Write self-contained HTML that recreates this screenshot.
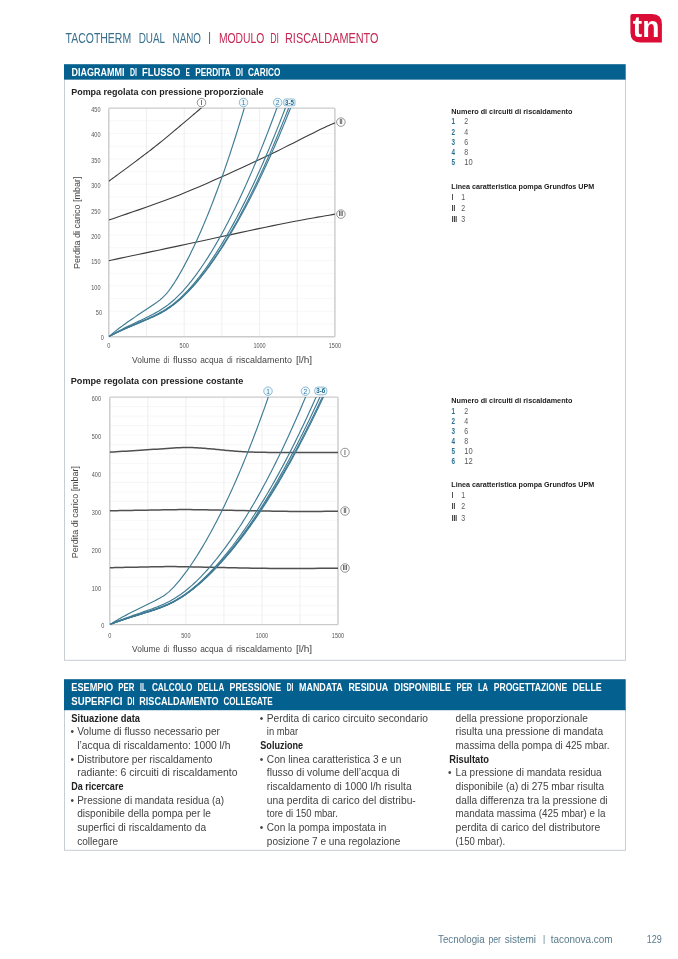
<!DOCTYPE html>
<html lang="it"><head><meta charset="utf-8"><title>TacoTherm Dual Nano – Modulo di riscaldamento</title>
<style>
html,body{margin:0;padding:0;background:#fff}
body{width:678px;height:959px;overflow:hidden}
svg{display:block;filter:blur(0.4px)}
svg text{font-family:"Liberation Sans",sans-serif}
</style></head><body>
<svg width="678" height="959" viewBox="0 0 678 959">
<text x="65.50" y="43.00" font-size="14.5" fill="#386f8c" textLength="65.70" lengthAdjust="spacingAndGlyphs">TACOTHERM</text>
<text x="138.70" y="43.00" font-size="14.5" fill="#386f8c" textLength="26.40" lengthAdjust="spacingAndGlyphs">DUAL</text>
<text x="172.60" y="43.00" font-size="14.5" fill="#386f8c" textLength="28.40" lengthAdjust="spacingAndGlyphs">NANO</text>
<text x="209.60" y="40.90" font-size="12" fill="#386f8c" text-anchor="middle">|</text>
<text x="218.90" y="43.00" font-size="14.5" fill="#c52852" textLength="45.40" lengthAdjust="spacingAndGlyphs">MODULO</text>
<text x="270.20" y="43.00" font-size="14.5" fill="#c52852" textLength="8.80" lengthAdjust="spacingAndGlyphs">DI</text>
<text x="285.00" y="43.00" font-size="14.5" fill="#c52852" textLength="93.50" lengthAdjust="spacingAndGlyphs">RISCALDAMENTO</text>
<path d="M632.2,14.0 H652 Q661.9,14.0 661.9,24.2 V42.6 H640.8 Q630.4,42.6 630.4,32.2 V15.8 Q630.4,14.0 632.2,14.0 Z" fill="#db0d36"/>
<text x="632.80" y="36.50" font-size="29" fill="#fff" font-weight="bold" textLength="26.60" lengthAdjust="spacingAndGlyphs">tn</text>
<rect x="64.50" y="79.00" width="561.00" height="581.30" fill="#fff" stroke="#c8cdd3" stroke-width="1"/>
<rect x="64.00" y="64.20" width="561.70" height="15.40" fill="#04608f"/>
<text x="71.60" y="76.00" font-size="10.8" fill="#fff" font-weight="bold" textLength="53.00" lengthAdjust="spacingAndGlyphs">DIAGRAMMI</text>
<text x="130.00" y="76.00" font-size="10.8" fill="#fff" font-weight="bold" textLength="7.00" lengthAdjust="spacingAndGlyphs">DI</text>
<text x="142.10" y="76.00" font-size="10.8" fill="#fff" font-weight="bold" textLength="38.10" lengthAdjust="spacingAndGlyphs">FLUSSO</text>
<text x="185.70" y="76.00" font-size="10.8" fill="#fff" font-weight="bold" textLength="4.00" lengthAdjust="spacingAndGlyphs">E</text>
<text x="195.20" y="76.00" font-size="10.8" fill="#fff" font-weight="bold" textLength="35.60" lengthAdjust="spacingAndGlyphs">PERDITA</text>
<text x="235.80" y="76.00" font-size="10.8" fill="#fff" font-weight="bold" textLength="7.10" lengthAdjust="spacingAndGlyphs">DI</text>
<text x="247.90" y="76.00" font-size="10.8" fill="#fff" font-weight="bold" textLength="32.60" lengthAdjust="spacingAndGlyphs">CARICO</text>
<rect x="108.80" y="108.10" width="226.10" height="228.60" fill="#fff"/>
<line x1="108.80" y1="324.00" x2="334.90" y2="324.00" stroke="#f4f4f4" stroke-width="0.7"/>
<line x1="108.80" y1="311.30" x2="334.90" y2="311.30" stroke="#f4f4f4" stroke-width="0.7"/>
<line x1="108.80" y1="298.60" x2="334.90" y2="298.60" stroke="#f4f4f4" stroke-width="0.7"/>
<line x1="108.80" y1="285.90" x2="334.90" y2="285.90" stroke="#f4f4f4" stroke-width="0.7"/>
<line x1="108.80" y1="273.20" x2="334.90" y2="273.20" stroke="#f4f4f4" stroke-width="0.7"/>
<line x1="108.80" y1="260.50" x2="334.90" y2="260.50" stroke="#f4f4f4" stroke-width="0.7"/>
<line x1="108.80" y1="247.80" x2="334.90" y2="247.80" stroke="#f4f4f4" stroke-width="0.7"/>
<line x1="108.80" y1="235.10" x2="334.90" y2="235.10" stroke="#f4f4f4" stroke-width="0.7"/>
<line x1="108.80" y1="222.40" x2="334.90" y2="222.40" stroke="#f4f4f4" stroke-width="0.7"/>
<line x1="108.80" y1="209.70" x2="334.90" y2="209.70" stroke="#f4f4f4" stroke-width="0.7"/>
<line x1="108.80" y1="197.00" x2="334.90" y2="197.00" stroke="#f4f4f4" stroke-width="0.7"/>
<line x1="108.80" y1="184.30" x2="334.90" y2="184.30" stroke="#f4f4f4" stroke-width="0.7"/>
<line x1="108.80" y1="171.60" x2="334.90" y2="171.60" stroke="#f4f4f4" stroke-width="0.7"/>
<line x1="108.80" y1="158.90" x2="334.90" y2="158.90" stroke="#f4f4f4" stroke-width="0.7"/>
<line x1="108.80" y1="146.20" x2="334.90" y2="146.20" stroke="#f4f4f4" stroke-width="0.7"/>
<line x1="108.80" y1="133.50" x2="334.90" y2="133.50" stroke="#f4f4f4" stroke-width="0.7"/>
<line x1="108.80" y1="120.80" x2="334.90" y2="120.80" stroke="#f4f4f4" stroke-width="0.7"/>
<line x1="146.48" y1="108.10" x2="146.48" y2="336.70" stroke="#ebebeb" stroke-width="0.8"/>
<line x1="184.17" y1="108.10" x2="184.17" y2="336.70" stroke="#ebebeb" stroke-width="0.8"/>
<line x1="221.85" y1="108.10" x2="221.85" y2="336.70" stroke="#ebebeb" stroke-width="0.8"/>
<line x1="259.53" y1="108.10" x2="259.53" y2="336.70" stroke="#ebebeb" stroke-width="0.8"/>
<line x1="297.22" y1="108.10" x2="297.22" y2="336.70" stroke="#ebebeb" stroke-width="0.8"/>
<clipPath id="c108"><rect x="108.8" y="108.1" width="226.09999999999997" height="228.6"/></clipPath>
<rect x="108.80" y="108.10" width="226.10" height="228.60" fill="none" stroke="#cbcbcb" stroke-width="1.4" rx="0.8"/>
<g clip-path="url(#c108)">
<path d="M108.70,181.30 L109.72,180.55 L110.97,179.63 L112.43,178.56 L114.07,177.36 L115.86,176.05 L117.77,174.65 L119.76,173.18 L121.81,171.67 L123.89,170.14 L125.97,168.60 L128.02,167.08 L130.00,165.60 L131.97,164.13 L133.99,162.62 L136.06,161.07 L138.16,159.50 L140.29,157.91 L142.44,156.29 L144.60,154.66 L146.76,153.02 L148.92,151.37 L151.07,149.71 L153.20,148.05 L155.30,146.40 L157.39,144.73 L159.50,143.03 L161.62,141.31 L163.74,139.57 L165.85,137.83 L167.96,136.08 L170.04,134.34 L172.11,132.61 L174.14,130.91 L176.14,129.23 L178.09,127.60 L180.00,126.00 L181.87,124.44 L183.72,122.88 L185.54,121.35 L187.33,119.83 L189.10,118.34 L190.83,116.87 L192.53,115.43 L194.19,114.01 L195.81,112.63 L197.39,111.28 L198.92,109.97 L200.40,108.70 L201.87,107.44 L203.34,106.17 L204.80,104.90 L206.24,103.66 L207.63,102.44 L208.98,101.27 L210.25,100.16 L211.43,99.12 L212.51,98.17 L213.48,97.33 L214.31,96.60 L215.00,96.00" fill="none" stroke="#3c3c3c" stroke-width="1.1" stroke-linejoin="round"/>
<path d="M108.70,220.10 L112.12,218.90 L116.36,217.45 L121.31,215.77 L126.86,213.89 L132.91,211.82 L139.35,209.61 L146.06,207.28 L152.95,204.85 L159.89,202.35 L166.79,199.81 L173.53,197.25 L180.00,194.70 L186.43,192.08 L193.06,189.31 L199.86,186.42 L206.76,183.43 L213.73,180.37 L220.71,177.27 L227.64,174.15 L234.49,171.05 L241.20,167.98 L247.72,164.99 L254.01,162.08 L260.00,159.30 L265.84,156.55 L271.68,153.75 L277.46,150.94 L283.15,148.13 L288.70,145.36 L294.07,142.66 L299.21,140.06 L304.08,137.59 L308.64,135.27 L312.84,133.15 L316.64,131.25 L320.00,129.60 L322.82,128.24 L325.09,127.15 L326.89,126.30 L328.30,125.65 L329.40,125.16 L330.26,124.79 L330.96,124.50 L331.59,124.25 L332.22,124.01 L332.93,123.73 L333.79,123.37 L334.90,122.90 L336.20,122.34 L337.58,121.75 L339.01,121.15 L340.48,120.54 L341.94,119.93 L343.38,119.33 L344.77,118.76 L346.08,118.22 L347.28,117.72 L348.35,117.28 L349.27,116.90 L350.00,116.60" fill="none" stroke="#3c3c3c" stroke-width="1.1" stroke-linejoin="round"/>
<path d="M108.70,260.70 L112.05,259.99 L116.12,259.13 L120.84,258.13 L126.12,257.02 L131.90,255.80 L138.10,254.49 L144.65,253.10 L151.47,251.66 L158.49,250.17 L165.63,248.66 L172.83,247.13 L180.00,245.60 L187.47,244.00 L195.52,242.27 L204.03,240.43 L212.87,238.51 L221.90,236.56 L231.01,234.59 L240.06,232.63 L248.92,230.73 L257.48,228.90 L265.59,227.19 L273.14,225.61 L280.00,224.20 L286.31,222.94 L292.32,221.77 L298.01,220.69 L303.40,219.69 L308.47,218.77 L313.24,217.92 L317.69,217.15 L321.82,216.43 L325.64,215.78 L329.15,215.17 L332.33,214.62 L335.20,214.10 L337.64,213.65 L339.57,213.30 L341.07,213.02 L342.19,212.82 L343.00,212.67 L343.55,212.57 L343.91,212.50 L344.14,212.46 L344.30,212.43 L344.46,212.40 L344.67,212.36 L345.00,212.30" fill="none" stroke="#3c3c3c" stroke-width="1.1" stroke-linejoin="round"/>
<path d="M108.80,336.70 L110.31,335.37 L111.81,334.08 L113.32,332.83 L114.83,331.60 L116.34,330.40 L117.84,329.23 L119.35,328.08 L120.86,326.95 L122.37,325.84 L123.87,324.74 L125.38,323.66 L126.89,322.59 L128.40,321.53 L129.90,320.48 L131.41,319.44 L132.92,318.41 L134.42,317.38 L135.93,316.36 L137.44,315.35 L138.95,314.33 L140.45,313.33 L141.96,312.32 L143.47,311.32 L144.98,310.32 L146.48,309.32 L147.99,308.32 L149.50,307.32 L151.01,306.31 L152.51,305.30 L154.02,304.27 L155.53,303.22 L157.03,302.14 L158.54,301.02 L160.05,299.83 L161.56,298.55 L163.06,297.18 L164.57,295.67 L166.08,294.04 L167.59,292.26 L169.09,290.35 L170.60,288.31 L172.11,286.16 L173.62,283.91 L175.12,281.56 L176.63,279.12 L178.14,276.61 L179.64,274.03 L181.15,271.38 L182.66,268.66 L184.17,265.88 L185.67,263.04 L187.18,260.14 L188.69,257.18 L190.20,254.16 L191.70,251.08 L193.21,247.94 L194.72,244.75 L196.23,241.49 L197.73,238.19 L199.24,234.82 L200.75,231.40 L202.25,227.92 L203.76,224.38 L205.27,220.79 L206.78,217.14 L208.28,213.43 L209.79,209.67 L211.30,205.85 L212.81,201.97 L214.31,198.04 L215.82,194.05 L217.33,190.00 L218.84,185.90 L220.34,181.74 L221.85,177.53 L223.36,173.25 L224.86,168.92 L226.37,164.54 L227.88,160.09 L229.39,155.59 L230.89,151.04 L232.40,146.43 L233.91,141.76 L235.42,137.03 L236.92,132.25 L238.43,127.41 L239.94,122.52 L241.45,117.56 L242.95,112.55 L244.46,107.49 L245.97,102.37" fill="none" stroke="#3f7b94" stroke-width="1.15" stroke-linejoin="round"/>
<path d="M108.80,336.70 L110.31,335.78 L111.81,334.88 L113.32,334.00 L114.83,333.15 L116.34,332.32 L117.84,331.50 L119.35,330.70 L120.86,329.91 L122.37,329.14 L123.87,328.38 L125.38,327.62 L126.89,326.88 L128.40,326.14 L129.90,325.41 L131.41,324.68 L132.92,323.96 L134.42,323.25 L135.93,322.53 L137.44,321.82 L138.95,321.11 L140.45,320.40 L141.96,319.68 L143.47,318.97 L144.98,318.25 L146.48,317.52 L147.99,316.78 L149.50,316.04 L151.01,315.27 L152.51,314.50 L154.02,313.70 L155.53,312.88 L157.03,312.04 L158.54,311.17 L160.05,310.26 L161.56,309.32 L163.06,308.34 L164.57,307.32 L166.08,306.25 L167.59,305.14 L169.09,303.98 L170.60,302.77 L172.11,301.51 L173.62,300.20 L175.12,298.84 L176.63,297.43 L178.14,295.96 L179.64,294.45 L181.15,292.88 L182.66,291.27 L184.17,289.60 L185.67,287.89 L187.18,286.13 L188.69,284.32 L190.20,282.46 L191.70,280.56 L193.21,278.62 L194.72,276.63 L196.23,274.60 L197.73,272.52 L199.24,270.40 L200.75,268.24 L202.25,266.04 L203.76,263.80 L205.27,261.51 L206.78,259.18 L208.28,256.82 L209.79,254.41 L211.30,251.96 L212.81,249.47 L214.31,246.95 L215.82,244.38 L217.33,241.77 L218.84,239.13 L220.34,236.44 L221.85,233.72 L223.36,230.95 L224.86,228.15 L226.37,225.31 L227.88,222.43 L229.39,219.52 L230.89,216.56 L232.40,213.56 L233.91,210.53 L235.42,207.46 L236.92,204.35 L238.43,201.20 L239.94,198.01 L241.45,194.79 L242.95,191.52 L244.46,188.22 L245.97,184.88 L247.47,181.50 L248.98,178.09 L250.49,174.63 L252.00,171.14 L253.50,167.61 L255.01,164.04 L256.52,160.44 L258.03,156.79 L259.53,153.11 L261.04,149.39 L262.55,145.63 L264.06,141.83 L265.56,138.00 L267.07,134.13 L268.58,130.22 L270.08,126.27 L271.59,122.28 L273.10,118.26 L274.61,114.19 L276.11,110.09 L277.62,105.95 L279.13,101.78" fill="none" stroke="#3f7b94" stroke-width="1.15" stroke-linejoin="round"/>
<path d="M108.80,336.70 L110.31,335.85 L111.81,335.03 L113.32,334.23 L114.83,333.45 L116.34,332.69 L117.84,331.94 L119.35,331.21 L120.86,330.49 L122.37,329.78 L123.87,329.08 L125.38,328.39 L126.89,327.71 L128.40,327.03 L129.90,326.36 L131.41,325.70 L132.92,325.04 L134.42,324.38 L135.93,323.73 L137.44,323.08 L138.95,322.43 L140.45,321.78 L141.96,321.13 L143.47,320.48 L144.98,319.82 L146.48,319.16 L147.99,318.49 L149.50,317.81 L151.01,317.12 L152.51,316.42 L154.02,315.70 L155.53,314.97 L157.03,314.21 L158.54,313.43 L160.05,312.62 L161.56,311.78 L163.06,310.91 L164.57,310.00 L166.08,309.06 L167.59,308.07 L169.09,307.04 L170.60,305.97 L172.11,304.85 L173.62,303.69 L175.12,302.48 L176.63,301.22 L178.14,299.91 L179.64,298.56 L181.15,297.17 L182.66,295.72 L184.17,294.23 L185.67,292.70 L187.18,291.12 L188.69,289.50 L190.20,287.84 L191.70,286.13 L193.21,284.39 L194.72,282.60 L196.23,280.77 L197.73,278.90 L199.24,276.99 L200.75,275.05 L202.25,273.06 L203.76,271.04 L205.27,268.97 L206.78,266.88 L208.28,264.74 L209.79,262.56 L211.30,260.35 L212.81,258.10 L214.31,255.82 L215.82,253.50 L217.33,251.14 L218.84,248.75 L220.34,246.32 L221.85,243.85 L223.36,241.35 L224.86,238.82 L226.37,236.24 L227.88,233.64 L229.39,230.99 L230.89,228.32 L232.40,225.60 L233.91,222.85 L235.42,220.07 L236.92,217.25 L238.43,214.39 L239.94,211.50 L241.45,208.58 L242.95,205.62 L244.46,202.63 L245.97,199.60 L247.47,196.53 L248.98,193.43 L250.49,190.30 L252.00,187.13 L253.50,183.92 L255.01,180.68 L256.52,177.41 L258.03,174.10 L259.53,170.75 L261.04,167.37 L262.55,163.96 L264.06,160.51 L265.56,157.03 L267.07,153.51 L268.58,149.95 L270.08,146.36 L271.59,142.74 L273.10,139.08 L274.61,135.39 L276.11,131.66 L277.62,127.90 L279.13,124.10 L280.64,120.27 L282.14,116.40 L283.65,112.50 L285.16,108.56 L286.67,104.58 L288.17,100.58" fill="none" stroke="#3f7b94" stroke-width="1.15" stroke-linejoin="round"/>
<path d="M108.80,336.70 L110.31,335.87 L111.81,335.07 L113.32,334.29 L114.83,333.53 L116.34,332.78 L117.84,332.05 L119.35,331.33 L120.86,330.63 L122.37,329.94 L123.87,329.25 L125.38,328.58 L126.89,327.91 L128.40,327.25 L129.90,326.60 L131.41,325.95 L132.92,325.31 L134.42,324.67 L135.93,324.03 L137.44,323.39 L138.95,322.76 L140.45,322.12 L141.96,321.49 L143.47,320.85 L144.98,320.21 L146.48,319.56 L147.99,318.91 L149.50,318.25 L151.01,317.57 L152.51,316.89 L154.02,316.19 L155.53,315.47 L157.03,314.73 L158.54,313.97 L160.05,313.18 L161.56,312.37 L163.06,311.52 L164.57,310.64 L166.08,309.72 L167.59,308.76 L169.09,307.76 L170.60,306.72 L172.11,305.64 L173.62,304.51 L175.12,303.34 L176.63,302.13 L178.14,300.87 L179.64,299.56 L181.15,298.21 L182.66,296.82 L184.17,295.38 L185.67,293.90 L187.18,292.38 L188.69,290.81 L190.20,289.21 L191.70,287.56 L193.21,285.88 L194.72,284.15 L196.23,282.39 L197.73,280.58 L199.24,278.74 L200.75,276.87 L202.25,274.95 L203.76,273.00 L205.27,271.01 L206.78,268.99 L208.28,266.93 L209.79,264.83 L211.30,262.70 L212.81,260.54 L214.31,258.34 L215.82,256.10 L217.33,253.83 L218.84,251.53 L220.34,249.19 L221.85,246.81 L223.36,244.41 L224.86,241.96 L226.37,239.49 L227.88,236.98 L229.39,234.44 L230.89,231.86 L232.40,229.25 L233.91,226.60 L235.42,223.93 L236.92,221.21 L238.43,218.47 L239.94,215.69 L241.45,212.88 L242.95,210.03 L244.46,207.15 L245.97,204.24 L247.47,201.30 L248.98,198.32 L250.49,195.30 L252.00,192.26 L253.50,189.18 L255.01,186.07 L256.52,182.92 L258.03,179.74 L259.53,176.53 L261.04,173.29 L262.55,170.01 L264.06,166.70 L265.56,163.35 L267.07,159.98 L268.58,156.57 L270.08,153.12 L271.59,149.64 L273.10,146.13 L274.61,142.59 L276.11,139.01 L277.62,135.40 L279.13,131.76 L280.64,128.08 L282.14,124.37 L283.65,120.63 L285.16,116.85 L286.67,113.05 L288.17,109.20 L289.68,105.33 L291.19,101.42" fill="none" stroke="#3f7b94" stroke-width="1.15" stroke-linejoin="round"/>
<path d="M108.80,336.70 L110.31,335.89 L111.81,335.10 L113.32,334.33 L114.83,333.58 L116.34,332.84 L117.84,332.12 L119.35,331.42 L120.86,330.73 L122.37,330.04 L123.87,329.37 L125.38,328.71 L126.89,328.05 L128.40,327.40 L129.90,326.76 L131.41,326.12 L132.92,325.49 L134.42,324.86 L135.93,324.23 L137.44,323.60 L138.95,322.97 L140.45,322.35 L141.96,321.72 L143.47,321.09 L144.98,320.45 L146.48,319.81 L147.99,319.17 L149.50,318.51 L151.01,317.84 L152.51,317.16 L154.02,316.46 L155.53,315.75 L157.03,315.01 L158.54,314.25 L160.05,313.46 L161.56,312.64 L163.06,311.79 L164.57,310.90 L166.08,309.98 L167.59,309.02 L169.09,308.02 L170.60,306.97 L172.11,305.89 L173.62,304.76 L175.12,303.59 L176.63,302.38 L178.14,301.12 L179.64,299.82 L181.15,298.48 L182.66,297.09 L184.17,295.67 L185.67,294.20 L187.18,292.69 L188.69,291.15 L190.20,289.56 L191.70,287.93 L193.21,286.27 L194.72,284.57 L196.23,282.83 L197.73,281.05 L199.24,279.24 L200.75,277.40 L202.25,275.51 L203.76,273.60 L205.27,271.64 L206.78,269.66 L208.28,267.63 L209.79,265.58 L211.30,263.49 L212.81,261.37 L214.31,259.21 L215.82,257.02 L217.33,254.80 L218.84,252.54 L220.34,250.25 L221.85,247.93 L223.36,245.57 L224.86,243.19 L226.37,240.77 L227.88,238.31 L229.39,235.83 L230.89,233.31 L232.40,230.76 L233.91,228.18 L235.42,225.57 L236.92,222.92 L238.43,220.25 L239.94,217.54 L241.45,214.79 L242.95,212.02 L244.46,209.21 L245.97,206.38 L247.47,203.51 L248.98,200.61 L250.49,197.67 L252.00,194.71 L253.50,191.71 L255.01,188.69 L256.52,185.63 L258.03,182.53 L259.53,179.41 L261.04,176.26 L262.55,173.07 L264.06,169.85 L265.56,166.60 L267.07,163.32 L268.58,160.01 L270.08,156.66 L271.59,153.29 L273.10,149.88 L274.61,146.44 L276.11,142.97 L277.62,139.47 L279.13,135.93 L280.64,132.37 L282.14,128.77 L283.65,125.14 L285.16,121.48 L286.67,117.79 L288.17,114.07 L289.68,110.31 L291.19,106.53 L292.69,102.71" fill="none" stroke="#3f7b94" stroke-width="1.15" stroke-linejoin="round"/>
</g>
<text x="103.90" y="340.20" font-size="7.4" fill="#555" text-anchor="end" textLength="3.10" lengthAdjust="spacingAndGlyphs">0</text>
<text x="102.00" y="315.20" font-size="7.4" fill="#555" text-anchor="end" textLength="6.20" lengthAdjust="spacingAndGlyphs">50</text>
<text x="100.50" y="289.80" font-size="7.4" fill="#555" text-anchor="end" textLength="9.20" lengthAdjust="spacingAndGlyphs">100</text>
<text x="100.50" y="264.40" font-size="7.4" fill="#555" text-anchor="end" textLength="9.20" lengthAdjust="spacingAndGlyphs">150</text>
<text x="100.50" y="239.00" font-size="7.4" fill="#555" text-anchor="end" textLength="9.20" lengthAdjust="spacingAndGlyphs">200</text>
<text x="100.50" y="213.60" font-size="7.4" fill="#555" text-anchor="end" textLength="9.20" lengthAdjust="spacingAndGlyphs">250</text>
<text x="100.50" y="188.20" font-size="7.4" fill="#555" text-anchor="end" textLength="9.20" lengthAdjust="spacingAndGlyphs">300</text>
<text x="100.50" y="162.80" font-size="7.4" fill="#555" text-anchor="end" textLength="9.20" lengthAdjust="spacingAndGlyphs">350</text>
<text x="100.50" y="137.40" font-size="7.4" fill="#555" text-anchor="end" textLength="9.20" lengthAdjust="spacingAndGlyphs">400</text>
<text x="100.50" y="112.00" font-size="7.4" fill="#555" text-anchor="end" textLength="9.20" lengthAdjust="spacingAndGlyphs">450</text>
<text x="108.80" y="348.25" font-size="7.4" fill="#555" text-anchor="middle" textLength="3.10" lengthAdjust="spacingAndGlyphs">0</text>
<text x="184.17" y="348.25" font-size="7.4" fill="#555" text-anchor="middle" textLength="9.20" lengthAdjust="spacingAndGlyphs">500</text>
<text x="259.53" y="348.25" font-size="7.4" fill="#555" text-anchor="middle" textLength="12.30" lengthAdjust="spacingAndGlyphs">1000</text>
<text x="334.90" y="348.25" font-size="7.4" fill="#555" text-anchor="middle" textLength="12.30" lengthAdjust="spacingAndGlyphs">1500</text>
<rect x="109.80" y="397.10" width="228.20" height="227.50" fill="#fff"/>
<line x1="109.80" y1="615.12" x2="338.00" y2="615.12" stroke="#f4f4f4" stroke-width="0.7"/>
<line x1="109.80" y1="605.64" x2="338.00" y2="605.64" stroke="#f4f4f4" stroke-width="0.7"/>
<line x1="109.80" y1="596.16" x2="338.00" y2="596.16" stroke="#f4f4f4" stroke-width="0.7"/>
<line x1="109.80" y1="586.68" x2="338.00" y2="586.68" stroke="#f4f4f4" stroke-width="0.7"/>
<line x1="109.80" y1="577.20" x2="338.00" y2="577.20" stroke="#f4f4f4" stroke-width="0.7"/>
<line x1="109.80" y1="567.73" x2="338.00" y2="567.73" stroke="#f4f4f4" stroke-width="0.7"/>
<line x1="109.80" y1="558.25" x2="338.00" y2="558.25" stroke="#f4f4f4" stroke-width="0.7"/>
<line x1="109.80" y1="548.77" x2="338.00" y2="548.77" stroke="#f4f4f4" stroke-width="0.7"/>
<line x1="109.80" y1="539.29" x2="338.00" y2="539.29" stroke="#f4f4f4" stroke-width="0.7"/>
<line x1="109.80" y1="529.81" x2="338.00" y2="529.81" stroke="#f4f4f4" stroke-width="0.7"/>
<line x1="109.80" y1="520.33" x2="338.00" y2="520.33" stroke="#f4f4f4" stroke-width="0.7"/>
<line x1="109.80" y1="510.85" x2="338.00" y2="510.85" stroke="#f4f4f4" stroke-width="0.7"/>
<line x1="109.80" y1="501.37" x2="338.00" y2="501.37" stroke="#f4f4f4" stroke-width="0.7"/>
<line x1="109.80" y1="491.89" x2="338.00" y2="491.89" stroke="#f4f4f4" stroke-width="0.7"/>
<line x1="109.80" y1="482.41" x2="338.00" y2="482.41" stroke="#f4f4f4" stroke-width="0.7"/>
<line x1="109.80" y1="472.93" x2="338.00" y2="472.93" stroke="#f4f4f4" stroke-width="0.7"/>
<line x1="109.80" y1="463.45" x2="338.00" y2="463.45" stroke="#f4f4f4" stroke-width="0.7"/>
<line x1="109.80" y1="453.98" x2="338.00" y2="453.98" stroke="#f4f4f4" stroke-width="0.7"/>
<line x1="109.80" y1="444.50" x2="338.00" y2="444.50" stroke="#f4f4f4" stroke-width="0.7"/>
<line x1="109.80" y1="435.02" x2="338.00" y2="435.02" stroke="#f4f4f4" stroke-width="0.7"/>
<line x1="109.80" y1="425.54" x2="338.00" y2="425.54" stroke="#f4f4f4" stroke-width="0.7"/>
<line x1="109.80" y1="416.06" x2="338.00" y2="416.06" stroke="#f4f4f4" stroke-width="0.7"/>
<line x1="109.80" y1="406.58" x2="338.00" y2="406.58" stroke="#f4f4f4" stroke-width="0.7"/>
<line x1="147.83" y1="397.10" x2="147.83" y2="624.60" stroke="#ebebeb" stroke-width="0.8"/>
<line x1="185.87" y1="397.10" x2="185.87" y2="624.60" stroke="#ebebeb" stroke-width="0.8"/>
<line x1="223.90" y1="397.10" x2="223.90" y2="624.60" stroke="#ebebeb" stroke-width="0.8"/>
<line x1="261.93" y1="397.10" x2="261.93" y2="624.60" stroke="#ebebeb" stroke-width="0.8"/>
<line x1="299.97" y1="397.10" x2="299.97" y2="624.60" stroke="#ebebeb" stroke-width="0.8"/>
<clipPath id="c397"><rect x="109.8" y="397.1" width="228.2" height="227.5"/></clipPath>
<rect x="109.80" y="397.10" width="228.20" height="227.50" fill="none" stroke="#cbcbcb" stroke-width="1.4" rx="0.8"/>
<g clip-path="url(#c397)">
<path d="M109.50,452.20 L111.31,452.08 L113.57,451.94 L116.22,451.77 L119.19,451.57 L122.42,451.37 L125.85,451.14 L129.41,450.91 L133.04,450.68 L136.68,450.45 L140.26,450.22 L143.72,450.00 L147.00,449.80 L150.21,449.59 L153.51,449.37 L156.86,449.13 L160.24,448.89 L163.63,448.65 L167.01,448.42 L170.33,448.20 L173.59,448.00 L176.75,447.82 L179.79,447.67 L182.68,447.57 L185.40,447.50 L187.95,447.48 L190.35,447.50 L192.63,447.56 L194.79,447.64 L196.86,447.76 L198.85,447.89 L200.77,448.03 L202.65,448.19 L204.50,448.35 L206.33,448.51 L208.15,448.66 L210.00,448.80 L211.81,448.94 L213.54,449.09 L215.21,449.24 L216.82,449.40 L218.41,449.57 L219.97,449.74 L221.55,449.91 L223.13,450.07 L224.76,450.24 L226.43,450.40 L228.17,450.55 L230.00,450.70 L231.84,450.84 L233.65,450.99 L235.43,451.13 L237.22,451.27 L239.05,451.41 L240.94,451.55 L242.91,451.68 L245.00,451.80 L247.23,451.92 L249.62,452.02 L252.20,452.12 L255.00,452.20 L258.07,452.27 L261.42,452.32 L265.00,452.37 L268.77,452.40 L272.67,452.43 L276.67,452.44 L280.71,452.46 L284.76,452.47 L288.75,452.47 L292.66,452.48 L296.42,452.49 L300.00,452.50 L303.53,452.51 L307.14,452.52 L310.79,452.52 L314.43,452.52 L318.03,452.52 L321.54,452.52 L324.92,452.52 L328.12,452.51 L331.10,452.51 L333.82,452.50 L336.24,452.50 L338.30,452.50 L339.99,452.50 L341.32,452.50 L342.35,452.50 L343.12,452.50 L343.67,452.50 L344.04,452.50 L344.28,452.50 L344.43,452.50 L344.54,452.50 L344.64,452.50 L344.78,452.50 L345.00,452.50" fill="none" stroke="#505050" stroke-width="1.5" stroke-linejoin="round"/>
<path d="M109.50,510.80 L111.46,510.77 L113.91,510.72 L116.79,510.67 L120.02,510.61 L123.53,510.55 L127.25,510.48 L131.11,510.41 L135.04,510.34 L138.96,510.28 L142.81,510.21 L146.51,510.15 L150.00,510.10 L153.32,510.05 L156.58,509.99 L159.80,509.93 L163.00,509.87 L166.20,509.81 L169.41,509.75 L172.65,509.70 L175.94,509.66 L179.31,509.62 L182.76,509.60 L186.32,509.59 L190.00,509.60 L193.82,509.63 L197.75,509.67 L201.80,509.73 L205.93,509.80 L210.12,509.88 L214.38,509.96 L218.66,510.05 L222.96,510.15 L227.27,510.24 L231.55,510.33 L235.80,510.42 L240.00,510.50 L244.17,510.58 L248.35,510.66 L252.54,510.75 L256.73,510.84 L260.92,510.93 L265.11,511.01 L269.29,511.10 L273.46,511.17 L277.62,511.25 L281.77,511.31 L285.89,511.36 L290.00,511.40 L294.22,511.43 L298.63,511.44 L303.17,511.44 L307.77,511.44 L312.35,511.42 L316.86,511.41 L321.21,511.39 L325.34,511.36 L329.19,511.34 L332.68,511.32 L335.74,511.31 L338.30,511.30 L340.34,511.30 L341.90,511.29 L343.06,511.29 L343.86,511.29 L344.38,511.29 L344.67,511.29 L344.79,511.29 L344.80,511.30 L344.77,511.30 L344.75,511.30 L344.81,511.30 L345.00,511.30" fill="none" stroke="#505050" stroke-width="1.5" stroke-linejoin="round"/>
<path d="M109.50,567.70 L110.96,567.67 L112.77,567.63 L114.88,567.59 L117.24,567.54 L119.82,567.49 L122.56,567.43 L125.43,567.37 L128.37,567.31 L131.34,567.26 L134.30,567.20 L137.20,567.15 L140.00,567.10 L142.73,567.05 L145.46,566.99 L148.20,566.94 L150.96,566.87 L153.76,566.81 L156.59,566.76 L159.48,566.70 L162.43,566.66 L165.44,566.62 L168.54,566.60 L171.72,566.59 L175.00,566.60 L178.38,566.63 L181.86,566.67 L185.43,566.73 L189.07,566.80 L192.79,566.88 L196.56,566.96 L200.39,567.05 L204.26,567.15 L208.16,567.24 L212.09,567.33 L216.04,567.42 L220.00,567.50 L223.93,567.58 L227.83,567.66 L231.72,567.75 L235.62,567.84 L239.55,567.93 L243.54,568.01 L247.62,568.10 L251.79,568.17 L256.10,568.25 L260.55,568.31 L265.18,568.36 L270.00,568.40 L275.25,568.43 L281.04,568.44 L287.23,568.44 L293.69,568.44 L300.28,568.42 L306.86,568.41 L313.28,568.39 L319.42,568.36 L325.13,568.34 L330.27,568.32 L334.71,568.31 L338.30,568.30 L341.04,568.30 L343.06,568.29 L344.46,568.29 L345.34,568.29 L345.80,568.29 L345.92,568.29 L345.80,568.29 L345.54,568.30 L345.24,568.30 L344.98,568.30 L344.87,568.30 L345.00,568.30" fill="none" stroke="#505050" stroke-width="1.5" stroke-linejoin="round"/>
<path d="M109.80,624.60 L111.32,623.61 L112.84,622.65 L114.36,621.71 L115.89,620.80 L117.41,619.90 L118.93,619.03 L120.45,618.17 L121.97,617.32 L123.49,616.49 L125.01,615.67 L126.53,614.87 L128.06,614.07 L129.58,613.28 L131.10,612.49 L132.62,611.72 L134.14,610.95 L135.66,610.18 L137.18,609.42 L138.71,608.66 L140.23,607.91 L141.75,607.15 L143.27,606.40 L144.79,605.66 L146.31,604.91 L147.83,604.16 L149.35,603.42 L150.88,602.67 L152.40,601.92 L153.92,601.16 L155.44,600.40 L156.96,599.62 L158.48,598.82 L160.00,597.99 L161.53,597.12 L163.05,596.19 L164.57,595.18 L166.09,594.09 L167.61,592.89 L169.13,591.60 L170.65,590.20 L172.17,588.71 L173.70,587.13 L175.22,585.47 L176.74,583.74 L178.26,581.94 L179.78,580.09 L181.30,578.18 L182.82,576.22 L184.35,574.21 L185.87,572.16 L187.39,570.05 L188.91,567.91 L190.43,565.71 L191.95,563.48 L193.47,561.20 L194.99,558.88 L196.52,556.51 L198.04,554.10 L199.56,551.65 L201.08,549.16 L202.60,546.63 L204.12,544.05 L205.64,541.43 L207.17,538.77 L208.69,536.07 L210.21,533.33 L211.73,530.54 L213.25,527.71 L214.77,524.84 L216.29,521.93 L217.81,518.98 L219.34,515.98 L220.86,512.94 L222.38,509.86 L223.90,506.74 L225.42,503.58 L226.94,500.37 L228.46,497.12 L229.99,493.83 L231.51,490.50 L233.03,487.13 L234.55,483.71 L236.07,480.25 L237.59,476.76 L239.11,473.21 L240.63,469.63 L242.16,466.01 L243.68,462.34 L245.20,458.63 L246.72,454.88 L248.24,451.09 L249.76,447.25 L251.28,443.38 L252.81,439.46 L254.33,435.50 L255.85,431.50 L257.37,427.45 L258.89,423.37 L260.41,419.24 L261.93,415.07 L263.45,410.86 L264.98,406.61 L266.50,402.31 L268.02,397.97 L269.54,393.59 L271.06,389.17" fill="none" stroke="#3f7b94" stroke-width="1.15" stroke-linejoin="round"/>
<path d="M109.80,624.60 L111.32,623.91 L112.84,623.24 L114.36,622.59 L115.89,621.95 L117.41,621.33 L118.93,620.72 L120.45,620.12 L121.97,619.53 L123.49,618.96 L125.01,618.39 L126.53,617.82 L128.06,617.27 L129.58,616.72 L131.10,616.17 L132.62,615.63 L134.14,615.09 L135.66,614.56 L137.18,614.03 L138.71,613.50 L140.23,612.97 L141.75,612.44 L143.27,611.91 L144.79,611.38 L146.31,610.85 L147.83,610.31 L149.35,609.77 L150.88,609.23 L152.40,608.67 L153.92,608.11 L155.44,607.54 L156.96,606.95 L158.48,606.35 L160.00,605.73 L161.53,605.09 L163.05,604.42 L164.57,603.74 L166.09,603.02 L167.61,602.27 L169.13,601.50 L170.65,600.68 L172.17,599.84 L173.70,598.95 L175.22,598.03 L176.74,597.07 L178.26,596.07 L179.78,595.03 L181.30,593.95 L182.82,592.83 L184.35,591.68 L185.87,590.48 L187.39,589.25 L188.91,587.98 L190.43,586.68 L191.95,585.33 L193.47,583.96 L194.99,582.54 L196.52,581.09 L198.04,579.61 L199.56,578.09 L201.08,576.54 L202.60,574.96 L204.12,573.34 L205.64,571.69 L207.17,570.01 L208.69,568.30 L210.21,566.55 L211.73,564.77 L213.25,562.97 L214.77,561.13 L216.29,559.26 L217.81,557.36 L219.34,555.43 L220.86,553.46 L222.38,551.47 L223.90,549.45 L225.42,547.40 L226.94,545.31 L228.46,543.20 L229.99,541.05 L231.51,538.88 L233.03,536.68 L234.55,534.44 L236.07,532.18 L237.59,529.89 L239.11,527.56 L240.63,525.21 L242.16,522.83 L243.68,520.41 L245.20,517.97 L246.72,515.50 L248.24,513.00 L249.76,510.47 L251.28,507.90 L252.81,505.31 L254.33,502.69 L255.85,500.04 L257.37,497.36 L258.89,494.65 L260.41,491.91 L261.93,489.14 L263.45,486.34 L264.98,483.51 L266.50,480.65 L268.02,477.76 L269.54,474.84 L271.06,471.89 L272.58,468.92 L274.10,465.91 L275.63,462.87 L277.15,459.80 L278.67,456.70 L280.19,453.58 L281.71,450.42 L283.23,447.23 L284.75,444.01 L286.27,440.77 L287.80,437.49 L289.32,434.18 L290.84,430.85 L292.36,427.48 L293.88,424.08 L295.40,420.66 L296.92,417.20 L298.45,413.71 L299.97,410.20 L301.49,406.65 L303.01,403.07 L304.53,399.47 L306.05,395.83 L307.57,392.16" fill="none" stroke="#3f7b94" stroke-width="1.15" stroke-linejoin="round"/>
<path d="M109.80,624.60 L111.32,623.97 L112.84,623.36 L114.36,622.76 L115.89,622.18 L117.41,621.61 L118.93,621.05 L120.45,620.50 L121.97,619.96 L123.49,619.43 L125.01,618.91 L126.53,618.40 L128.06,617.89 L129.58,617.38 L131.10,616.88 L132.62,616.39 L134.14,615.90 L135.66,615.41 L137.18,614.92 L138.71,614.44 L140.23,613.95 L141.75,613.47 L143.27,612.98 L144.79,612.50 L146.31,612.01 L147.83,611.52 L149.35,611.03 L150.88,610.53 L152.40,610.02 L153.92,609.51 L155.44,608.99 L156.96,608.45 L158.48,607.90 L160.00,607.34 L161.53,606.76 L163.05,606.15 L164.57,605.53 L166.09,604.88 L167.61,604.21 L169.13,603.50 L170.65,602.77 L172.17,602.01 L173.70,601.21 L175.22,600.38 L176.74,599.51 L178.26,598.61 L179.78,597.68 L181.30,596.71 L182.82,595.71 L184.35,594.67 L185.87,593.60 L187.39,592.49 L188.91,591.35 L190.43,590.17 L191.95,588.97 L193.47,587.73 L194.99,586.46 L196.52,585.16 L198.04,583.82 L199.56,582.46 L201.08,581.07 L202.60,579.64 L204.12,578.19 L205.64,576.71 L207.17,575.20 L208.69,573.66 L210.21,572.09 L211.73,570.50 L213.25,568.87 L214.77,567.22 L216.29,565.54 L217.81,563.83 L219.34,562.10 L220.86,560.34 L222.38,558.55 L223.90,556.73 L225.42,554.89 L226.94,553.02 L228.46,551.12 L229.99,549.20 L231.51,547.25 L233.03,545.27 L234.55,543.27 L236.07,541.23 L237.59,539.18 L239.11,537.09 L240.63,534.98 L242.16,532.85 L243.68,530.68 L245.20,528.49 L246.72,526.28 L248.24,524.03 L249.76,521.76 L251.28,519.47 L252.81,517.14 L254.33,514.80 L255.85,512.42 L257.37,510.02 L258.89,507.59 L260.41,505.14 L261.93,502.65 L263.45,500.15 L264.98,497.61 L266.50,495.05 L268.02,492.47 L269.54,489.85 L271.06,487.21 L272.58,484.55 L274.10,481.85 L275.63,479.14 L277.15,476.39 L278.67,473.62 L280.19,470.82 L281.71,467.99 L283.23,465.14 L284.75,462.27 L286.27,459.36 L287.80,456.43 L289.32,453.47 L290.84,450.49 L292.36,447.48 L293.88,444.44 L295.40,441.38 L296.92,438.29 L298.45,435.17 L299.97,432.03 L301.49,428.86 L303.01,425.66 L304.53,422.44 L306.05,419.19 L307.57,415.91 L309.09,412.61 L310.62,409.28 L312.14,405.93 L313.66,402.54 L315.18,399.13 L316.70,395.70 L318.22,392.24" fill="none" stroke="#3f7b94" stroke-width="1.15" stroke-linejoin="round"/>
<path d="M109.80,624.60 L111.32,623.98 L112.84,623.38 L114.36,622.80 L115.89,622.23 L117.41,621.67 L118.93,621.13 L120.45,620.60 L121.97,620.07 L123.49,619.55 L125.01,619.04 L126.53,618.54 L128.06,618.04 L129.58,617.55 L131.10,617.06 L132.62,616.58 L134.14,616.10 L135.66,615.62 L137.18,615.14 L138.71,614.67 L140.23,614.20 L141.75,613.72 L143.27,613.25 L144.79,612.77 L146.31,612.30 L147.83,611.82 L149.35,611.33 L150.88,610.84 L152.40,610.35 L153.92,609.84 L155.44,609.32 L156.96,608.80 L158.48,608.26 L160.00,607.70 L161.53,607.12 L163.05,606.53 L164.57,605.91 L166.09,605.27 L167.61,604.60 L169.13,603.91 L170.65,603.18 L172.17,602.43 L173.70,601.64 L175.22,600.83 L176.74,599.98 L178.26,599.09 L179.78,598.17 L181.30,597.22 L182.82,596.24 L184.35,595.22 L185.87,594.17 L187.39,593.09 L188.91,591.98 L190.43,590.83 L191.95,589.66 L193.47,588.45 L194.99,587.21 L196.52,585.95 L198.04,584.65 L199.56,583.33 L201.08,581.97 L202.60,580.59 L204.12,579.18 L205.64,577.75 L207.17,576.28 L208.69,574.79 L210.21,573.27 L211.73,571.73 L213.25,570.15 L214.77,568.56 L216.29,566.93 L217.81,565.28 L219.34,563.60 L220.86,561.90 L222.38,560.17 L223.90,558.42 L225.42,556.64 L226.94,554.84 L228.46,553.01 L229.99,551.15 L231.51,549.27 L233.03,547.36 L234.55,545.43 L236.07,543.47 L237.59,541.49 L239.11,539.48 L240.63,537.45 L242.16,535.39 L243.68,533.31 L245.20,531.20 L246.72,529.07 L248.24,526.91 L249.76,524.73 L251.28,522.52 L252.81,520.29 L254.33,518.03 L255.85,515.75 L257.37,513.44 L258.89,511.11 L260.41,508.75 L261.93,506.37 L263.45,503.97 L264.98,501.53 L266.50,499.08 L268.02,496.60 L269.54,494.09 L271.06,491.56 L272.58,489.00 L274.10,486.42 L275.63,483.81 L277.15,481.18 L278.67,478.53 L280.19,475.85 L281.71,473.14 L283.23,470.41 L284.75,467.66 L286.27,464.88 L287.80,462.07 L289.32,459.24 L290.84,456.39 L292.36,453.51 L293.88,450.60 L295.40,447.67 L296.92,444.72 L298.45,441.74 L299.97,438.73 L301.49,435.71 L303.01,432.65 L304.53,429.57 L306.05,426.47 L307.57,423.34 L309.09,420.19 L310.62,417.01 L312.14,413.80 L313.66,410.57 L315.18,407.32 L316.70,404.04 L318.22,400.74 L319.74,397.41 L321.27,394.06 L322.79,390.68" fill="none" stroke="#3f7b94" stroke-width="1.15" stroke-linejoin="round"/>
<path d="M109.80,624.60 L111.32,623.99 L112.84,623.40 L114.36,622.83 L115.89,622.27 L117.41,621.72 L118.93,621.18 L120.45,620.66 L121.97,620.14 L123.49,619.63 L125.01,619.13 L126.53,618.64 L128.06,618.15 L129.58,617.66 L131.10,617.18 L132.62,616.70 L134.14,616.23 L135.66,615.76 L137.18,615.29 L138.71,614.82 L140.23,614.36 L141.75,613.89 L143.27,613.42 L144.79,612.95 L146.31,612.48 L147.83,612.00 L149.35,611.52 L150.88,611.03 L152.40,610.53 L153.92,610.02 L155.44,609.51 L156.96,608.97 L158.48,608.43 L160.00,607.86 L161.53,607.28 L163.05,606.67 L164.57,606.04 L166.09,605.38 L167.61,604.70 L169.13,603.99 L170.65,603.25 L172.17,602.48 L173.70,601.68 L175.22,600.85 L176.74,599.98 L178.26,599.09 L179.78,598.16 L181.30,597.19 L182.82,596.20 L184.35,595.18 L185.87,594.12 L187.39,593.04 L188.91,591.92 L190.43,590.78 L191.95,589.60 L193.47,588.40 L194.99,587.17 L196.52,585.91 L198.04,584.62 L199.56,583.30 L201.08,581.96 L202.60,580.59 L204.12,579.20 L205.64,577.78 L207.17,576.33 L208.69,574.86 L210.21,573.36 L211.73,571.84 L213.25,570.29 L214.77,568.71 L216.29,567.11 L217.81,565.49 L219.34,563.84 L220.86,562.17 L222.38,560.47 L223.90,558.75 L225.42,557.01 L226.94,555.24 L228.46,553.44 L229.99,551.62 L231.51,549.78 L233.03,547.91 L234.55,546.02 L236.07,544.11 L237.59,542.17 L239.11,540.21 L240.63,538.22 L242.16,536.21 L243.68,534.18 L245.20,532.12 L246.72,530.04 L248.24,527.94 L249.76,525.81 L251.28,523.66 L252.81,521.49 L254.33,519.29 L255.85,517.07 L257.37,514.82 L258.89,512.55 L260.41,510.26 L261.93,507.94 L263.45,505.60 L264.98,503.24 L266.50,500.85 L268.02,498.44 L269.54,496.01 L271.06,493.55 L272.58,491.07 L274.10,488.57 L275.63,486.04 L277.15,483.49 L278.67,480.92 L280.19,478.32 L281.71,475.70 L283.23,473.05 L284.75,470.39 L286.27,467.69 L287.80,464.98 L289.32,462.24 L290.84,459.48 L292.36,456.70 L293.88,453.89 L295.40,451.06 L296.92,448.20 L298.45,445.32 L299.97,442.42 L301.49,439.50 L303.01,436.55 L304.53,433.58 L306.05,430.58 L307.57,427.57 L309.09,424.52 L310.62,421.46 L312.14,418.37 L313.66,415.26 L315.18,412.12 L316.70,408.97 L318.22,405.78 L319.74,402.58 L321.27,399.35 L322.79,396.10 L324.31,392.82 L325.83,389.53" fill="none" stroke="#3f7b94" stroke-width="1.15" stroke-linejoin="round"/>
<path d="M109.80,624.60 L111.32,624.00 L112.84,623.41 L114.36,622.84 L115.89,622.29 L117.41,621.74 L118.93,621.21 L120.45,620.69 L121.97,620.18 L123.49,619.67 L125.01,619.17 L126.53,618.68 L128.06,618.20 L129.58,617.72 L131.10,617.24 L132.62,616.77 L134.14,616.30 L135.66,615.83 L137.18,615.37 L138.71,614.90 L140.23,614.44 L141.75,613.97 L143.27,613.51 L144.79,613.04 L146.31,612.57 L147.83,612.10 L149.35,611.62 L150.88,611.14 L152.40,610.65 L153.92,610.14 L155.44,609.63 L156.96,609.10 L158.48,608.56 L160.00,608.00 L161.53,607.42 L163.05,606.82 L164.57,606.20 L166.09,605.55 L167.61,604.88 L169.13,604.17 L170.65,603.44 L172.17,602.68 L173.70,601.89 L175.22,601.06 L176.74,600.21 L178.26,599.32 L179.78,598.40 L181.30,597.45 L182.82,596.47 L184.35,595.46 L185.87,594.41 L187.39,593.34 L188.91,592.23 L190.43,591.10 L191.95,589.94 L193.47,588.75 L194.99,587.53 L196.52,586.28 L198.04,585.01 L199.56,583.71 L201.08,582.38 L202.60,581.02 L204.12,579.64 L205.64,578.24 L207.17,576.80 L208.69,575.35 L210.21,573.86 L211.73,572.36 L213.25,570.82 L214.77,569.26 L216.29,567.68 L217.81,566.07 L219.34,564.44 L220.86,562.79 L222.38,561.11 L223.90,559.40 L225.42,557.67 L226.94,555.92 L228.46,554.15 L229.99,552.35 L231.51,550.52 L233.03,548.67 L234.55,546.80 L236.07,544.91 L237.59,542.99 L239.11,541.05 L240.63,539.08 L242.16,537.09 L243.68,535.08 L245.20,533.04 L246.72,530.98 L248.24,528.90 L249.76,526.79 L251.28,524.66 L252.81,522.51 L254.33,520.33 L255.85,518.13 L257.37,515.91 L258.89,513.66 L260.41,511.39 L261.93,509.10 L263.45,506.78 L264.98,504.45 L266.50,502.08 L268.02,499.70 L269.54,497.29 L271.06,494.85 L272.58,492.40 L274.10,489.92 L275.63,487.42 L277.15,484.89 L278.67,482.34 L280.19,479.77 L281.71,477.18 L283.23,474.56 L284.75,471.92 L286.27,469.25 L287.80,466.57 L289.32,463.86 L290.84,461.12 L292.36,458.37 L293.88,455.59 L295.40,452.78 L296.92,449.96 L298.45,447.11 L299.97,444.23 L301.49,441.34 L303.01,438.42 L304.53,435.48 L306.05,432.51 L307.57,429.52 L309.09,426.51 L310.62,423.48 L312.14,420.42 L313.66,417.34 L315.18,414.24 L316.70,411.11 L318.22,407.96 L319.74,404.79 L321.27,401.59 L322.79,398.37 L324.31,395.13 L325.83,391.86" fill="none" stroke="#3f7b94" stroke-width="1.15" stroke-linejoin="round"/>
</g>
<text x="104.40" y="628.10" font-size="7.4" fill="#555" text-anchor="end" textLength="3.10" lengthAdjust="spacingAndGlyphs">0</text>
<text x="101.00" y="590.58" font-size="7.4" fill="#555" text-anchor="end" textLength="9.20" lengthAdjust="spacingAndGlyphs">100</text>
<text x="101.00" y="552.67" font-size="7.4" fill="#555" text-anchor="end" textLength="9.20" lengthAdjust="spacingAndGlyphs">200</text>
<text x="101.00" y="514.75" font-size="7.4" fill="#555" text-anchor="end" textLength="9.20" lengthAdjust="spacingAndGlyphs">300</text>
<text x="101.00" y="476.83" font-size="7.4" fill="#555" text-anchor="end" textLength="9.20" lengthAdjust="spacingAndGlyphs">400</text>
<text x="101.00" y="438.92" font-size="7.4" fill="#555" text-anchor="end" textLength="9.20" lengthAdjust="spacingAndGlyphs">500</text>
<text x="101.00" y="401.00" font-size="7.4" fill="#555" text-anchor="end" textLength="9.20" lengthAdjust="spacingAndGlyphs">600</text>
<text x="109.80" y="638.05" font-size="7.4" fill="#555" text-anchor="middle" textLength="3.10" lengthAdjust="spacingAndGlyphs">0</text>
<text x="185.87" y="638.05" font-size="7.4" fill="#555" text-anchor="middle" textLength="9.20" lengthAdjust="spacingAndGlyphs">500</text>
<text x="261.93" y="638.05" font-size="7.4" fill="#555" text-anchor="middle" textLength="12.30" lengthAdjust="spacingAndGlyphs">1000</text>
<text x="338.00" y="638.05" font-size="7.4" fill="#555" text-anchor="middle" textLength="12.30" lengthAdjust="spacingAndGlyphs">1500</text>
<text x="71.20" y="95.20" font-size="9.4" fill="#222" font-weight="bold" textLength="192.20" lengthAdjust="spacingAndGlyphs">Pompa regolata con pressione proporzionale</text>
<text x="70.80" y="384.30" font-size="9.4" fill="#222" font-weight="bold" textLength="172.60" lengthAdjust="spacingAndGlyphs">Pompe regolata con pressione costante</text>
<text x="132.10" y="362.60" font-size="9.7" fill="#444" textLength="28.00" lengthAdjust="spacingAndGlyphs">Volume</text>
<text x="163.60" y="362.60" font-size="9.7" fill="#444" textLength="5.40" lengthAdjust="spacingAndGlyphs">di</text>
<text x="172.90" y="362.60" font-size="9.7" fill="#444" textLength="24.10" lengthAdjust="spacingAndGlyphs">flusso</text>
<text x="200.20" y="362.60" font-size="9.7" fill="#444" textLength="22.90" lengthAdjust="spacingAndGlyphs">acqua</text>
<text x="227.10" y="362.60" font-size="9.7" fill="#444" textLength="5.50" lengthAdjust="spacingAndGlyphs">di</text>
<text x="236.10" y="362.60" font-size="9.7" fill="#444" textLength="56.00" lengthAdjust="spacingAndGlyphs">riscaldamento</text>
<text x="295.90" y="362.60" font-size="9.7" fill="#444" textLength="16.30" lengthAdjust="spacingAndGlyphs">[l/h]</text>
<text x="132.10" y="652.40" font-size="9.7" fill="#444" textLength="28.00" lengthAdjust="spacingAndGlyphs">Volume</text>
<text x="163.60" y="652.40" font-size="9.7" fill="#444" textLength="5.40" lengthAdjust="spacingAndGlyphs">di</text>
<text x="172.90" y="652.40" font-size="9.7" fill="#444" textLength="24.10" lengthAdjust="spacingAndGlyphs">flusso</text>
<text x="200.20" y="652.40" font-size="9.7" fill="#444" textLength="22.90" lengthAdjust="spacingAndGlyphs">acqua</text>
<text x="227.10" y="652.40" font-size="9.7" fill="#444" textLength="5.50" lengthAdjust="spacingAndGlyphs">di</text>
<text x="236.10" y="652.40" font-size="9.7" fill="#444" textLength="56.00" lengthAdjust="spacingAndGlyphs">riscaldamento</text>
<text x="295.90" y="652.40" font-size="9.7" fill="#444" textLength="16.30" lengthAdjust="spacingAndGlyphs">[l/h]</text>
<g transform="translate(80.4,268.9) rotate(-90)">
<text x="0.00" y="0.00" font-size="9.3" fill="#444" textLength="92.40" lengthAdjust="spacingAndGlyphs">Perdita di carico [mbar]</text>
</g>
<g transform="translate(77.9,558.3) rotate(-90)">
<text x="0.00" y="0.00" font-size="9.3" fill="#444" textLength="92.40" lengthAdjust="spacingAndGlyphs">Perdita di carico [mbar]</text>
</g>
<circle cx="243.50" cy="102.50" r="4.25" fill="#f1f8fb" stroke="#62a0c2" stroke-width="0.7"/>
<text x="243.50" y="104.80" font-size="6.6" fill="#2f78a0" text-anchor="middle">1</text>
<circle cx="277.70" cy="102.50" r="4.25" fill="#f1f8fb" stroke="#62a0c2" stroke-width="0.7"/>
<text x="277.70" y="104.80" font-size="6.6" fill="#2f78a0" text-anchor="middle">2</text>
<rect x="283.8" y="99.0" width="11.2" height="6.8" rx="1.6" fill="#f1f8fb" stroke="#62a0c2" stroke-width="0.7"/>
<text x="289.40" y="104.70" font-size="6.3" fill="#1f6a90" font-weight="bold" text-anchor="middle" textLength="8.80" lengthAdjust="spacingAndGlyphs">3-5</text>
<circle cx="201.50" cy="102.60" r="4.25" fill="#fff" stroke="#666" stroke-width="0.7"/>
<text x="201.50" y="104.90" font-size="6.6" fill="#444" font-weight="bold" text-anchor="middle" textLength="1.40" lengthAdjust="spacingAndGlyphs">I</text>
<circle cx="340.90" cy="122.10" r="4.25" fill="#fff" stroke="#666" stroke-width="0.7"/>
<text x="340.90" y="124.40" font-size="6.6" fill="#444" font-weight="bold" text-anchor="middle" textLength="3.00" lengthAdjust="spacingAndGlyphs">II</text>
<circle cx="340.90" cy="214.10" r="4.25" fill="#fff" stroke="#666" stroke-width="0.7"/>
<text x="340.90" y="216.40" font-size="6.6" fill="#444" font-weight="bold" text-anchor="middle" textLength="4.40" lengthAdjust="spacingAndGlyphs">III</text>
<circle cx="268.00" cy="391.20" r="4.25" fill="#f1f8fb" stroke="#62a0c2" stroke-width="0.7"/>
<text x="268.00" y="393.50" font-size="6.6" fill="#2f78a0" text-anchor="middle">1</text>
<circle cx="305.40" cy="391.20" r="4.25" fill="#f1f8fb" stroke="#62a0c2" stroke-width="0.7"/>
<text x="305.40" y="393.50" font-size="6.6" fill="#2f78a0" text-anchor="middle">2</text>
<rect x="314.7" y="387.1" width="12.2" height="7.7" rx="3.2" fill="#f1f8fb" stroke="#62a0c2" stroke-width="0.7"/>
<text x="320.80" y="393.30" font-size="6.5" fill="#1f6a90" font-weight="bold" text-anchor="middle" textLength="9.00" lengthAdjust="spacingAndGlyphs">3-6</text>
<circle cx="345.00" cy="452.50" r="4.25" fill="#fff" stroke="#666" stroke-width="0.7"/>
<text x="345.00" y="454.80" font-size="6.6" fill="#444" font-weight="bold" text-anchor="middle" textLength="1.40" lengthAdjust="spacingAndGlyphs">I</text>
<circle cx="345.00" cy="511.00" r="4.25" fill="#fff" stroke="#666" stroke-width="0.7"/>
<text x="345.00" y="513.30" font-size="6.6" fill="#444" font-weight="bold" text-anchor="middle" textLength="3.00" lengthAdjust="spacingAndGlyphs">II</text>
<circle cx="345.00" cy="568.00" r="4.25" fill="#fff" stroke="#666" stroke-width="0.7"/>
<text x="345.00" y="570.30" font-size="6.6" fill="#444" font-weight="bold" text-anchor="middle" textLength="4.40" lengthAdjust="spacingAndGlyphs">III</text>
<text x="451.30" y="113.80" font-size="7.9" fill="#222" font-weight="bold" textLength="121.10" lengthAdjust="spacingAndGlyphs">Numero di circuiti di riscaldamento</text>
<text x="451.60" y="124.30" font-size="8.6" fill="#2a6f92" font-weight="bold" textLength="3.50" lengthAdjust="spacingAndGlyphs">1</text>
<text x="464.20" y="124.30" font-size="8.6" fill="#5a5a5a" textLength="3.90" lengthAdjust="spacingAndGlyphs">2</text>
<text x="451.60" y="134.50" font-size="8.6" fill="#2a6f92" font-weight="bold" textLength="3.50" lengthAdjust="spacingAndGlyphs">2</text>
<text x="464.20" y="134.50" font-size="8.6" fill="#5a5a5a" textLength="3.90" lengthAdjust="spacingAndGlyphs">4</text>
<text x="451.60" y="144.70" font-size="8.6" fill="#2a6f92" font-weight="bold" textLength="3.50" lengthAdjust="spacingAndGlyphs">3</text>
<text x="464.20" y="144.70" font-size="8.6" fill="#5a5a5a" textLength="3.90" lengthAdjust="spacingAndGlyphs">6</text>
<text x="451.60" y="154.90" font-size="8.6" fill="#2a6f92" font-weight="bold" textLength="3.50" lengthAdjust="spacingAndGlyphs">4</text>
<text x="464.20" y="154.90" font-size="8.6" fill="#5a5a5a" textLength="3.90" lengthAdjust="spacingAndGlyphs">8</text>
<text x="451.60" y="165.10" font-size="8.6" fill="#2a6f92" font-weight="bold" textLength="3.50" lengthAdjust="spacingAndGlyphs">5</text>
<text x="464.20" y="165.10" font-size="8.6" fill="#5a5a5a" textLength="8.40" lengthAdjust="spacingAndGlyphs">10</text>
<text x="451.30" y="188.50" font-size="7.9" fill="#222" font-weight="bold" textLength="142.90" lengthAdjust="spacingAndGlyphs">Linea caratteristica pompa Grundfos UPM</text>
<text x="451.80" y="199.60" font-size="8.3" fill="#222" font-weight="bold" textLength="1.50" lengthAdjust="spacingAndGlyphs">I</text>
<text x="461.30" y="199.60" font-size="8.6" fill="#5a5a5a" textLength="3.90" lengthAdjust="spacingAndGlyphs">1</text>
<text x="451.80" y="210.90" font-size="8.3" fill="#222" font-weight="bold" textLength="3.40" lengthAdjust="spacingAndGlyphs">II</text>
<text x="461.30" y="210.90" font-size="8.6" fill="#5a5a5a" textLength="3.90" lengthAdjust="spacingAndGlyphs">2</text>
<text x="451.80" y="222.20" font-size="8.3" fill="#222" font-weight="bold" textLength="5.30" lengthAdjust="spacingAndGlyphs">III</text>
<text x="461.30" y="222.20" font-size="8.6" fill="#5a5a5a" textLength="3.90" lengthAdjust="spacingAndGlyphs">3</text>
<text x="451.30" y="403.40" font-size="7.9" fill="#222" font-weight="bold" textLength="121.10" lengthAdjust="spacingAndGlyphs">Numero di circuiti di riscaldamento</text>
<text x="451.60" y="413.50" font-size="8.6" fill="#2a6f92" font-weight="bold" textLength="3.50" lengthAdjust="spacingAndGlyphs">1</text>
<text x="464.20" y="413.50" font-size="8.6" fill="#5a5a5a" textLength="3.90" lengthAdjust="spacingAndGlyphs">2</text>
<text x="451.60" y="423.65" font-size="8.6" fill="#2a6f92" font-weight="bold" textLength="3.50" lengthAdjust="spacingAndGlyphs">2</text>
<text x="464.20" y="423.65" font-size="8.6" fill="#5a5a5a" textLength="3.90" lengthAdjust="spacingAndGlyphs">4</text>
<text x="451.60" y="433.80" font-size="8.6" fill="#2a6f92" font-weight="bold" textLength="3.50" lengthAdjust="spacingAndGlyphs">3</text>
<text x="464.20" y="433.80" font-size="8.6" fill="#5a5a5a" textLength="3.90" lengthAdjust="spacingAndGlyphs">6</text>
<text x="451.60" y="443.95" font-size="8.6" fill="#2a6f92" font-weight="bold" textLength="3.50" lengthAdjust="spacingAndGlyphs">4</text>
<text x="464.20" y="443.95" font-size="8.6" fill="#5a5a5a" textLength="3.90" lengthAdjust="spacingAndGlyphs">8</text>
<text x="451.60" y="454.10" font-size="8.6" fill="#2a6f92" font-weight="bold" textLength="3.50" lengthAdjust="spacingAndGlyphs">5</text>
<text x="464.20" y="454.10" font-size="8.6" fill="#5a5a5a" textLength="8.40" lengthAdjust="spacingAndGlyphs">10</text>
<text x="451.60" y="464.25" font-size="8.6" fill="#2a6f92" font-weight="bold" textLength="3.50" lengthAdjust="spacingAndGlyphs">6</text>
<text x="464.20" y="464.25" font-size="8.6" fill="#5a5a5a" textLength="8.40" lengthAdjust="spacingAndGlyphs">12</text>
<text x="451.30" y="487.10" font-size="7.9" fill="#222" font-weight="bold" textLength="142.90" lengthAdjust="spacingAndGlyphs">Linea caratteristica pompa Grundfos UPM</text>
<text x="451.80" y="497.80" font-size="8.3" fill="#222" font-weight="bold" textLength="1.50" lengthAdjust="spacingAndGlyphs">I</text>
<text x="461.30" y="497.80" font-size="8.6" fill="#5a5a5a" textLength="3.90" lengthAdjust="spacingAndGlyphs">1</text>
<text x="451.80" y="509.40" font-size="8.3" fill="#222" font-weight="bold" textLength="3.40" lengthAdjust="spacingAndGlyphs">II</text>
<text x="461.30" y="509.40" font-size="8.6" fill="#5a5a5a" textLength="3.90" lengthAdjust="spacingAndGlyphs">2</text>
<text x="451.80" y="521.10" font-size="8.3" fill="#222" font-weight="bold" textLength="5.30" lengthAdjust="spacingAndGlyphs">III</text>
<text x="461.30" y="521.10" font-size="8.6" fill="#5a5a5a" textLength="3.90" lengthAdjust="spacingAndGlyphs">3</text>
<rect x="64.50" y="709.00" width="561.00" height="141.30" fill="#fff" stroke="#c8cdd3" stroke-width="1"/>
<rect x="64.00" y="679.20" width="561.70" height="31.00" fill="#04608f"/>
<text x="71.30" y="690.80" font-size="10.8" fill="#fff" font-weight="bold" textLength="41.90" lengthAdjust="spacingAndGlyphs">ESEMPIO</text>
<text x="118.30" y="690.80" font-size="10.8" fill="#fff" font-weight="bold" textLength="16.20" lengthAdjust="spacingAndGlyphs">PER</text>
<text x="140.10" y="690.80" font-size="10.8" fill="#fff" font-weight="bold" textLength="6.20" lengthAdjust="spacingAndGlyphs">IL</text>
<text x="151.90" y="690.80" font-size="10.8" fill="#fff" font-weight="bold" textLength="40.60" lengthAdjust="spacingAndGlyphs">CALCOLO</text>
<text x="197.60" y="690.80" font-size="10.8" fill="#fff" font-weight="bold" textLength="26.60" lengthAdjust="spacingAndGlyphs">DELLA</text>
<text x="229.60" y="690.80" font-size="10.8" fill="#fff" font-weight="bold" textLength="51.50" lengthAdjust="spacingAndGlyphs">PRESSIONE</text>
<text x="286.70" y="690.80" font-size="10.8" fill="#fff" font-weight="bold" textLength="6.70" lengthAdjust="spacingAndGlyphs">DI</text>
<text x="299.00" y="690.80" font-size="10.8" fill="#fff" font-weight="bold" textLength="43.80" lengthAdjust="spacingAndGlyphs">MANDATA</text>
<text x="348.40" y="690.80" font-size="10.8" fill="#fff" font-weight="bold" textLength="39.80" lengthAdjust="spacingAndGlyphs">RESIDUA</text>
<text x="394.00" y="690.80" font-size="10.8" fill="#fff" font-weight="bold" textLength="56.90" lengthAdjust="spacingAndGlyphs">DISPONIBILE</text>
<text x="456.50" y="690.80" font-size="10.8" fill="#fff" font-weight="bold" textLength="15.90" lengthAdjust="spacingAndGlyphs">PER</text>
<text x="478.00" y="690.80" font-size="10.8" fill="#fff" font-weight="bold" textLength="10.10" lengthAdjust="spacingAndGlyphs">LA</text>
<text x="493.70" y="690.80" font-size="10.8" fill="#fff" font-weight="bold" textLength="73.60" lengthAdjust="spacingAndGlyphs">PROGETTAZIONE</text>
<text x="572.60" y="690.80" font-size="10.8" fill="#fff" font-weight="bold" textLength="29.20" lengthAdjust="spacingAndGlyphs">DELLE</text>
<text x="71.30" y="705.40" font-size="10.8" fill="#fff" font-weight="bold" textLength="51.20" lengthAdjust="spacingAndGlyphs">SUPERFICI</text>
<text x="127.20" y="705.40" font-size="10.8" fill="#fff" font-weight="bold" textLength="7.30" lengthAdjust="spacingAndGlyphs">DI</text>
<text x="139.30" y="705.40" font-size="10.8" fill="#fff" font-weight="bold" textLength="79.30" lengthAdjust="spacingAndGlyphs">RISCALDAMENTO</text>
<text x="223.40" y="705.40" font-size="10.8" fill="#fff" font-weight="bold" textLength="49.30" lengthAdjust="spacingAndGlyphs">COLLEGATE</text>
<text x="71.30" y="721.50" font-size="10.05" fill="#222" font-weight="bold" textLength="68.70" lengthAdjust="spacingAndGlyphs">Situazione data</text>
<text x="70.60" y="735.20" font-size="10.05" fill="#424242">•</text>
<text x="77.20" y="735.20" font-size="10.05" fill="#424242" textLength="142.80" lengthAdjust="spacingAndGlyphs">Volume di flusso necessario per</text>
<text x="77.20" y="748.90" font-size="10.05" fill="#424242" textLength="153.30" lengthAdjust="spacingAndGlyphs">l’acqua di riscaldamento: 1000 l/h</text>
<text x="70.60" y="762.60" font-size="10.05" fill="#424242">•</text>
<text x="77.20" y="762.60" font-size="10.05" fill="#424242" textLength="135.30" lengthAdjust="spacingAndGlyphs">Distributore per riscaldamento</text>
<text x="77.20" y="776.30" font-size="10.05" fill="#424242" textLength="160.30" lengthAdjust="spacingAndGlyphs">radiante: 6 circuiti di riscaldamento</text>
<text x="71.30" y="790.00" font-size="10.05" fill="#222" font-weight="bold" textLength="52.10" lengthAdjust="spacingAndGlyphs">Da ricercare</text>
<text x="70.60" y="803.70" font-size="10.05" fill="#424242">•</text>
<text x="77.20" y="803.70" font-size="10.05" fill="#424242" textLength="147.00" lengthAdjust="spacingAndGlyphs">Pressione di mandata residua (a)</text>
<text x="77.20" y="817.40" font-size="10.05" fill="#424242" textLength="133.80" lengthAdjust="spacingAndGlyphs">disponibile della pompa per le</text>
<text x="77.20" y="831.10" font-size="10.05" fill="#424242" textLength="129.00" lengthAdjust="spacingAndGlyphs">superfici di riscaldamento da</text>
<text x="77.20" y="844.80" font-size="10.05" fill="#424242" textLength="41.00" lengthAdjust="spacingAndGlyphs">collegare</text>
<text x="259.80" y="721.50" font-size="10.05" fill="#424242">•</text>
<text x="266.80" y="721.50" font-size="10.05" fill="#424242" textLength="161.10" lengthAdjust="spacingAndGlyphs">Perdita di carico circuito secondario</text>
<text x="266.80" y="735.20" font-size="10.05" fill="#424242" textLength="31.30" lengthAdjust="spacingAndGlyphs">in mbar</text>
<text x="260.30" y="748.90" font-size="10.05" fill="#222" font-weight="bold" textLength="42.80" lengthAdjust="spacingAndGlyphs">Soluzione</text>
<text x="259.80" y="762.60" font-size="10.05" fill="#424242">•</text>
<text x="266.80" y="762.60" font-size="10.05" fill="#424242" textLength="134.50" lengthAdjust="spacingAndGlyphs">Con linea caratteristica 3 e un</text>
<text x="266.80" y="776.30" font-size="10.05" fill="#424242" textLength="132.80" lengthAdjust="spacingAndGlyphs">flusso di volume dell’acqua di</text>
<text x="266.80" y="790.00" font-size="10.05" fill="#424242" textLength="144.90" lengthAdjust="spacingAndGlyphs">riscaldamento di 1000 l/h risulta</text>
<text x="266.80" y="803.70" font-size="10.05" fill="#424242" textLength="149.00" lengthAdjust="spacingAndGlyphs">una perdita di carico del distribu-</text>
<text x="266.80" y="817.40" font-size="10.05" fill="#424242" textLength="71.10" lengthAdjust="spacingAndGlyphs">tore di 150 mbar.</text>
<text x="259.80" y="831.10" font-size="10.05" fill="#424242">•</text>
<text x="266.80" y="831.10" font-size="10.05" fill="#424242" textLength="119.50" lengthAdjust="spacingAndGlyphs">Con la pompa impostata in</text>
<text x="266.80" y="844.80" font-size="10.05" fill="#424242" textLength="133.60" lengthAdjust="spacingAndGlyphs">posizione 7 e una regolazione</text>
<text x="455.60" y="721.50" font-size="10.05" fill="#424242" textLength="132.20" lengthAdjust="spacingAndGlyphs">della pressione proporzionale</text>
<text x="455.60" y="735.20" font-size="10.05" fill="#424242" textLength="147.50" lengthAdjust="spacingAndGlyphs">risulta una pressione di mandata</text>
<text x="455.60" y="748.90" font-size="10.05" fill="#424242" textLength="154.00" lengthAdjust="spacingAndGlyphs">massima della pompa di 425 mbar.</text>
<text x="449.20" y="762.60" font-size="10.05" fill="#222" font-weight="bold" textLength="39.80" lengthAdjust="spacingAndGlyphs">Risultato</text>
<text x="448.00" y="776.30" font-size="10.05" fill="#424242">•</text>
<text x="455.60" y="776.30" font-size="10.05" fill="#424242" textLength="146.10" lengthAdjust="spacingAndGlyphs">La pressione di mandata residua</text>
<text x="455.60" y="790.00" font-size="10.05" fill="#424242" textLength="148.40" lengthAdjust="spacingAndGlyphs">disponibile (a) di 275 mbar risulta</text>
<text x="455.60" y="803.70" font-size="10.05" fill="#424242" textLength="152.00" lengthAdjust="spacingAndGlyphs">dalla differenza tra la pressione di</text>
<text x="455.60" y="817.40" font-size="10.05" fill="#424242" textLength="149.90" lengthAdjust="spacingAndGlyphs">mandata massima (425 mbar) e la</text>
<text x="455.60" y="831.10" font-size="10.05" fill="#424242" textLength="144.60" lengthAdjust="spacingAndGlyphs">perdita di carico del distributore</text>
<text x="455.60" y="844.80" font-size="10.05" fill="#424242" textLength="49.60" lengthAdjust="spacingAndGlyphs">(150 mbar).</text>
<text x="438.00" y="942.50" font-size="10.3" fill="#587a8c" textLength="46.70" lengthAdjust="spacingAndGlyphs">Tecnologia</text>
<text x="488.50" y="942.50" font-size="10.3" fill="#587a8c" textLength="12.50" lengthAdjust="spacingAndGlyphs">per</text>
<text x="504.80" y="942.50" font-size="10.3" fill="#587a8c" textLength="31.20" lengthAdjust="spacingAndGlyphs">sistemi</text>
<text x="550.80" y="942.50" font-size="10.3" fill="#587a8c" textLength="61.70" lengthAdjust="spacingAndGlyphs">taconova.com</text>
<text x="646.80" y="942.50" font-size="10.3" fill="#587a8c" textLength="15.00" lengthAdjust="spacingAndGlyphs">129</text>
<text x="544.10" y="941.70" font-size="8.3" fill="#587a8c" text-anchor="middle">|</text>
</svg>
</body></html>
